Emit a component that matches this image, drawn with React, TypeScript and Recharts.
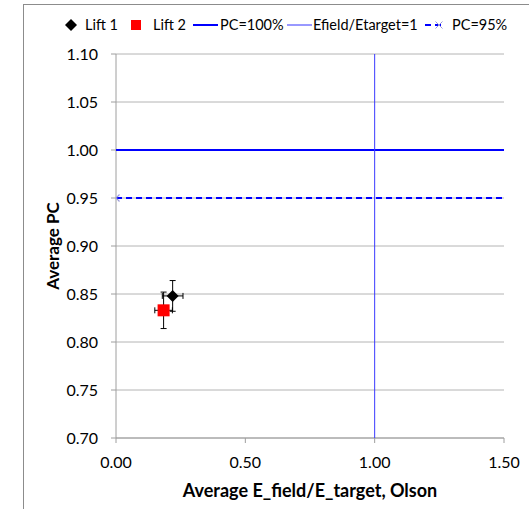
import { CartesianGrid, ErrorBar, Scatter, ScatterChart, XAxis, YAxis } from 'recharts';

// Lift measurements (mean + half-width of error bars)
const lift1X = [0.219];
const lift1Y = [0.848];
const lift1XErr = [0.04];
const lift1YErr = [0.016];

const lift2X = [0.184];
const lift2Y = [0.833];
const lift2XErr = [0.034];
const lift2YErr = [0.019];

// reference lines
const pc100X = [0, 1.5];
const pc100Y = [1.0, 1.0];
const efieldX = [1.0, 1.0];
const efieldY = [0.7, 1.1];
const pc95X = [0, 1.5];
const pc95Y = [0.95, 0.95];

const xTicks = [0, 0.5, 1.0, 1.5];
const yTicks = [0.7, 0.75, 0.8, 0.85, 0.9, 0.95, 1.0, 1.05, 1.1];

const FONT = 'Lato, "Open Sans", sans-serif';

const toPoints = (xs: number[], ys: number[], xe?: number[], ye?: number[]) =>
  xs.map((x, i) => ({ x, y: ys[i], xErr: xe ? xe[i] : 0, yErr: ye ? ye[i] : 0 }));

const lift1 = toPoints(lift1X, lift1Y, lift1XErr, lift1YErr);
const lift2 = toPoints(lift2X, lift2Y, lift2XErr, lift2YErr);
const pc100 = toPoints(pc100X, pc100Y);
const efield = toPoints(efieldX, efieldY);
const pc95 = toPoints(pc95X, pc95Y);

const Diamond = (props: any) => {
  const { cx, cy } = props;
  return (
    <polygon
      points={`${cx},${cy - 6} ${cx + 6},${cy} ${cx},${cy + 6} ${cx - 6},${cy}`}
      fill='#000'
    />
  );
};

const Square = (props: any) => {
  const { cx, cy } = props;
  return <rect x={cx - 6} y={cy - 6} width={12} height={12} fill='#ff0000' />;
};

const NoMarker = () => <g />;

// x marker only on the first point of the PC=95% series
const CrossFirst = (props: any) => {
  const { cx, cy, payload } = props;
  if (!payload || payload.x !== pc95X[0]) return <g />;
  return (
    <g stroke='#9a9ad8' strokeWidth={1.2}>
      <line x1={cx - 3.5} y1={cy - 3.5} x2={cx + 3.5} y2={cy + 3.5} />
      <line x1={cx - 3.5} y1={cy + 3.5} x2={cx + 3.5} y2={cy - 3.5} />
    </g>
  );
};

const legendText = { fontSize: 14.5, color: '#000', fontFamily: 'Lato', lineHeight: '18px', whiteSpace: 'nowrap' as const };

const ChartLegend = () => (
  <div style={{ position: 'absolute', top: 16, left: 0, height: 18, width: 529 }}>
    <svg style={{ position: 'absolute', left: 65, top: 3 }} width={12} height={12}>
      <polygon points='6,0 12,6 6,12 0,6' fill='#000' />
    </svg>
    <span style={{ ...legendText, position: 'absolute', left: 85, top: 0 }}>Lift 1</span>
    <svg style={{ position: 'absolute', left: 131, top: 4 }} width={10} height={10}>
      <rect x={0} y={0} width={10} height={10} fill='#ff0000' />
    </svg>
    <span style={{ ...legendText, position: 'absolute', left: 153, top: 0 }}>Lift 2</span>
    <svg style={{ position: 'absolute', left: 193, top: 0 }} width={25} height={18}>
      <line x1={0} y1={9} x2={25} y2={9} stroke='#0000ff' strokeWidth={2} />
    </svg>
    <span style={{ ...legendText, position: 'absolute', left: 220, top: 0 }}>PC=100%</span>
    <svg style={{ position: 'absolute', left: 287, top: 0 }} width={25} height={18}>
      <line x1={0} y1={9} x2={25} y2={9} stroke='#3333ff' strokeWidth={1} />
    </svg>
    <span style={{ ...legendText, position: 'absolute', left: 313, top: 0 }}>Efield/Etarget=1</span>
    <svg style={{ position: 'absolute', left: 425, top: 0 }} width={19} height={18}>
      <line x1={0} y1={9} x2={19} y2={9} stroke='#0000ff' strokeWidth={2} strokeDasharray='6 4' />
      <g stroke='#9a9ad8' strokeWidth={1}>
        <line x1={10.5} y1={5.5} x2={17.5} y2={12.5} />
        <line x1={10.5} y1={12.5} x2={17.5} y2={5.5} />
      </g>
    </svg>
    <span style={{ ...legendText, position: 'absolute', left: 452, top: 0 }}>PC=95%</span>
  </div>
);

export default function App() {
  return (
    <div style={{ position: 'absolute', left: 0, top: 0, width: 529, height: 509, background: '#fff', overflow: 'hidden' }}>
      <div
        style={{
          position: 'absolute',
          left: 23,
          top: 4,
          width: 520,
          height: 520,
          borderLeft: '1px solid #8c8c8c',
          borderTop: '1px solid #8c8c8c',
        }}
      />
      <ChartLegend />
      <ScatterChart
        width={529}
        height={509}
        margin={{ top: 54, right: 25, bottom: 0, left: 0 }}
        style={{ position: 'absolute', left: 0, top: 0 }}
      >
        <CartesianGrid vertical={false} stroke='#b4b4b4' />
        <XAxis
          type='number'
          dataKey='x'
          domain={[0, 1.5]}
          ticks={xTicks}
          tickFormatter={(v) => v.toFixed(2)}
          allowDataOverflow
          height={71}
          stroke='#9e9e9e'
          tickSize={5}
          tickMargin={14}
          tick={{ fill: '#000', fontSize: 16, fontFamily: FONT }}
          label={{
            value: 'Average E_field/E_target, Olson',
            content: (p: any) => {
              const vb = p.viewBox;
              return (
                <text
                  x={vb.x + vb.width / 2}
                  y={490}
                  textAnchor='middle'
                  dominantBaseline='central'
                  fontSize={18}
                  fontWeight='bold'
                  fontFamily={FONT}
                  fill='#000'
                >
                  Average E_field/E_target, Olson
                </text>
              );
            },
          }}
        />
        <XAxis
          xAxisId='top'
          orientation='top'
          type='number'
          domain={[0, 1.5]}
          height={0}
          tick={false}
          tickLine={false}
          axisLine={{ stroke: '#000' }}
        />
        <YAxis
          type='number'
          dataKey='y'
          domain={[0.7, 1.1]}
          ticks={yTicks}
          tickFormatter={(v) => v.toFixed(2)}
          allowDataOverflow
          width={116}
          stroke='#9e9e9e'
          tickSize={5}
          tickMargin={13}
          tick={{ fill: '#000', fontSize: 16, fontFamily: FONT }}
          label={{
            value: 'Average PC',
            content: (p: any) => {
              const vb = p.viewBox;
              const cy = vb.y + vb.height / 2;
              return (
                <text
                  x={52}
                  y={cy}
                  transform={`rotate(-90, 52, ${cy})`}
                  textAnchor='middle'
                  dominantBaseline='central'
                  fontSize={17}
                  fontWeight='bold'
                  fontFamily={FONT}
                  fill='#000'
                >
                  Average PC
                </text>
              );
            },
          }}
        />
        <YAxis
          yAxisId='right'
          orientation='right'
          type='number'
          domain={[0.7, 1.1]}
          width={0}
          tick={false}
          tickLine={false}
          axisLine={{ stroke: '#000' }}
        />
        <Scatter
          name='PC=100%'
          data={pc100}
          line={{ stroke: '#0000ff', strokeWidth: 2 }}
          shape={NoMarker}
          isAnimationActive={false}
        />
        <Scatter
          name='Efield/Etarget=1'
          data={efield}
          line={{ stroke: '#3a3aff', strokeWidth: 1 }}
          shape={NoMarker}
          isAnimationActive={false}
        />
        <Scatter
          name='PC=95%'
          data={pc95}
          line={{ stroke: '#0000ff', strokeWidth: 2, strokeDasharray: '6 4' }}
          shape={CrossFirst}
          isAnimationActive={false}
        />
        <Scatter name='Lift 2' data={lift2} shape={Square} isAnimationActive={false}>
          <ErrorBar dataKey='xErr' direction='x' width={3} stroke='#000' strokeWidth={1} />
          <ErrorBar dataKey='yErr' direction='y' width={3} stroke='#000' strokeWidth={1} />
        </Scatter>
        <Scatter name='Lift 1' data={lift1} shape={Diamond} isAnimationActive={false}>
          <ErrorBar dataKey='xErr' direction='x' width={3} stroke='#000' strokeWidth={1} />
          <ErrorBar dataKey='yErr' direction='y' width={3} stroke='#000' strokeWidth={1} />
        </Scatter>
      </ScatterChart>
    </div>
  );
}
